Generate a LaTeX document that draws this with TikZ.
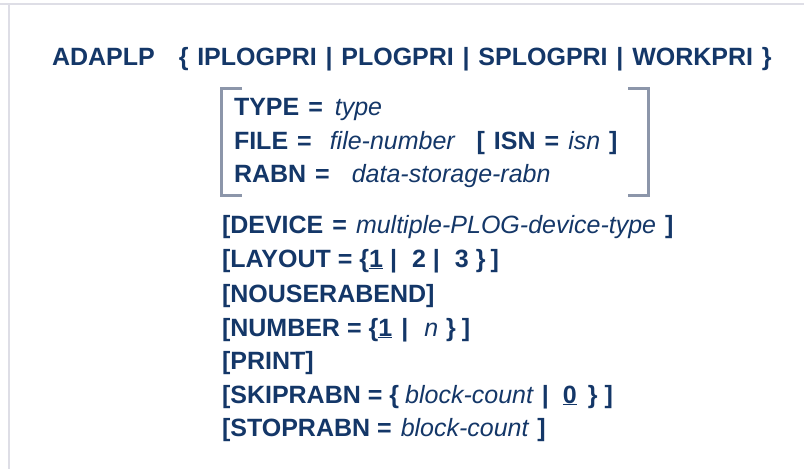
\documentclass[tikz,border=0pt]{standalone}
\usepackage{fontspec}
\setmainfont{Liberation Sans}
\definecolor{ink}{RGB}{20,55,104}
\definecolor{brk}{RGB}{140,150,170}
\definecolor{framegray}{RGB}{222,222,230}
\newcommand{\hs}[1]{\hspace{#1pt}}
\newcommand{\gp}{\hspace{9pt}}
\begin{document}
\begin{tikzpicture}[x=1pt,y=-1pt,
  txt/.style={anchor=base west, inner sep=0pt, outer sep=0pt, text=ink, font=\fontsize{25}{30}\selectfont},
  brkline/.style={draw=brk, line width=3pt},
  frameline/.style={draw=framegray, line width=2pt}]
\useasboundingbox (0,0) rectangle (804,469);
\fill[white] (0,0) rectangle (804,469);
\draw[frameline] (0,4) -- (804,4);
\draw[frameline] (9,4) -- (9,469);
\node[txt] (title) at (52,65.5) {\textbf{ADAPLP\hs{24}\{\hs{8.8}IPLOGPRI\hs{8.8}|\hs{8.8}PLOGPRI\hs{8.8}|\hs{8.8}SPLOGPRI\hs{8.8}|\hs{8.8}WORKPRI\hs{8.8}\}}};
\node[txt] (type) at (234,115.5) {\textbf{TYPE\gp=}\hs{12}\textit{type}};
\node[txt] (file) at (234,149) {\textbf{FILE\gp=}\hs{18}\textit{file-number}\hs{21}\textbf{[\gp ISN\gp=}\gp\textit{isn}\gp\textbf{]}};
\node[txt] (rabn) at (234,182.5) {\textbf{RABN\gp=}\hs{22}\textit{data-storage-rabn}};
\draw[brkline] (242,88) -- (221.5,88) -- (221.5,195) -- (242,195);
\draw[brkline] (628,88) -- (648,88) -- (648,195) -- (628,195);
\node[txt] (device) at (222,233) {\textbf{[DEVICE\gp=}\gp\textit{multiple-PLOG-device-type}\gp\textbf{]}};
\node[txt] (layout) at (222,267) {\textbf{[LAYOUT\hs{7}=\hs{7}\{\underline{1}\hs{7}|\hs{15}2\hs{7}|\hs{15}3\hs{7}\}\hs{5}]}};
\node[txt] (nouser) at (222,302) {\textbf{[NOUSERABEND]}};
\node[txt] (number) at (222,336) {\textbf{[NUMBER\hs{7}=\hs{7}\{\underline{1}\hs{9}|}\hs{16}\textit{n}\hs{8}\textbf{\}\hs{6}]}};
\node[txt] (print) at (222,369.5) {\textbf{[PRINT]}};
\node[txt] (skip) at (222,403) {\textbf{[SKIPRABN\hs{7}=\hs{7}\{}\hs{6}\textit{block-count}\hs{8}\textbf{|\hs{14}\underline{0}\hs{11}\}\hs{7}]}};
\node[txt] (stop) at (222,436) {\textbf{[STOPRABN\hs{7}=}\hs{9}\textit{block-count}\hs{8}\textbf{]}};
\end{tikzpicture}
\end{document}
